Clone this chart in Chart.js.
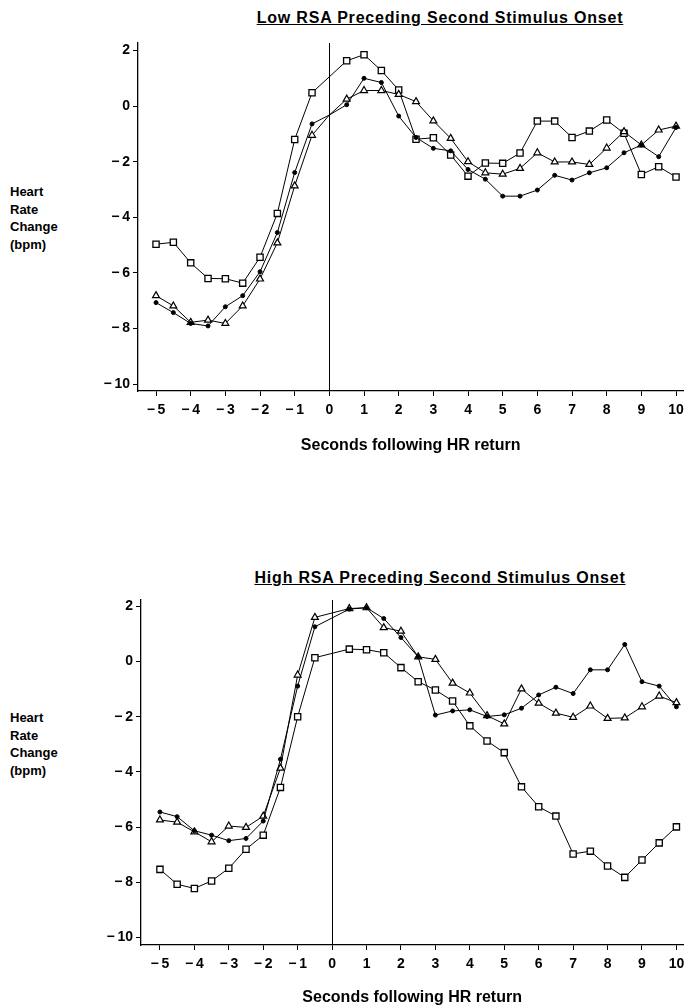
<!DOCTYPE html>
<html lang="en">
<head>
<meta charset="UTF-8">
<title>Heart Rate Change following HR return</title>
<script src="https://cdn.jsdelivr.net/npm/chart.js"></script>
<style>
  body { margin: 0; background: #fff; width: 689px; height: 1006px; position: relative; overflow: hidden;
         font-family: "Liberation Sans", Arial, sans-serif; color: #000; }
  .panel { position: absolute; left: 0; width: 689px; }
  .title { position: absolute; left: 440px; transform: translateX(-50%); white-space: nowrap;
           font-weight: bold; font-size: 16px; line-height: 18px; text-decoration: underline; letter-spacing: 0.8px; }
  .ylab { position: absolute; left: 10px; font-weight: bold; font-size: 13px; line-height: 17.5px; }
</style>
</head>
<body>
  <div class="title" style="top:9px">Low RSA Preceding Second Stimulus Onset</div>
  <div class="ylab" style="top:183px">Heart<br>Rate<br>Change<br>(bpm)</div>
  <div class="panel" style="top:0; height:480px"><canvas id="lowChart"></canvas></div>

  <div class="title" style="top:569px">High RSA Preceding Second Stimulus Onset</div>
  <div class="ylab" style="top:709px">Heart<br>Rate<br>Change<br>(bpm)</div>
  <div class="panel" style="top:500px; height:506px"><canvas id="highChart"></canvas></div>

<script>
  // seconds following HR return (half-second samples)
  const times = [-5, -4.5, -4, -3.5, -3, -2.5, -2, -1.5, -1, -0.5, 0, 0.5, 1, 1.5, 2, 2.5, 3, 3.5, 4, 4.5,
                 5, 5.5, 6, 6.5, 7, 7.5, 8, 8.5, 9, 9.5, 10];
  const xTicks = [-5, -4, -3, -2, -1, 0, 1, 2, 3, 4, 5, 6, 7, 8, 9, 10];
  const yTicks = [-10, -8, -6, -4, -2, 0, 2];

  // Low RSA panel
  const lowSquare = [-4.97, -4.90, -5.64, -6.20, -6.21, -6.37, -5.44, -3.86, -1.20, 0.48, null, 1.63, 1.85, 1.28, 0.58,
                     -1.19, -1.14, -1.76, -2.52, -2.05, -2.06, -1.69, -0.54, -0.54, -1.13, -0.90, -0.50, -0.98, -2.46, -2.18, -2.55];
  const lowCircle = [-7.07, -7.43, -7.82, -7.91, -7.22, -6.82, -5.96, -4.55, -2.39, -0.64, -0.32, 0.05, 1.00, 0.85, -0.36,
                     -1.13, -1.52, -1.61, -2.28, -2.63, -3.24, -3.24, -3.02, -2.49, -2.66, -2.40, -2.22, -1.68, -1.40, -1.82, -0.77];
  const lowTriangle = [-6.82, -7.19, -7.78, -7.70, -7.82, -7.19, -6.22, -4.92, -2.87, -1.05, -0.32, 0.25, 0.56, 0.56, 0.42,
                       0.16, -0.53, -1.16, -2.00, -2.40, -2.45, -2.24, -1.68, -2.01, -2.01, -2.10, -1.51, -0.92, -1.40, -0.86, -0.72];

  // High RSA panel
  const highSquare = [-7.53, -8.07, -8.22, -7.95, -7.49, -6.80, -6.29, -4.56, -2.00, 0.14, null, 0.45, 0.43, 0.32, -0.22,
                      -0.73, -1.03, -1.43, -2.33, -2.88, -3.30, -4.54, -5.26, -5.60, -6.97, -6.87, -7.41, -7.82, -7.19, -6.57, -5.99];
  const highCircle = [-5.45, -5.62, -6.13, -6.29, -6.49, -6.41, -5.78, -3.54, -0.89, 1.26, null, 1.90, 1.95, 1.56, 0.87,
                      0.17, -1.94, -1.79, -1.75, -1.99, -1.93, -1.69, -1.21, -0.93, -1.16, -0.30, -0.30, 0.62, -0.73, -0.89, -1.64];
  const highTriangle = [-5.74, -5.82, -6.17, -6.53, -5.96, -6.01, -5.60, -3.86, -0.49, 1.60, null, 1.92, 1.95, 1.23, 1.10,
                        0.17, 0.08, -0.78, -1.14, -1.96, -2.26, -0.99, -1.51, -1.87, -2.02, -1.61, -2.06, -2.04, -1.64, -1.25, -1.49];

  const zeroLine = 0;

  Chart.defaults.font.family = '"Liberation Sans", Arial, sans-serif';
  Chart.defaults.font.weight = 'bold';
  Chart.defaults.font.size = 14;
  Chart.defaults.color = '#000';

  function fmt(v) {
    return v < 0 ? '\u2212\u2009' + Math.abs(v) : String(v);
  }

  // hide markers at t = 0 (covered by the vertical line in the original)
  function radius(r) {
    return ctx => (ctx.raw && ctx.raw.x === 0) ? 0 : r;
  }

  const zeroLinePlugin = {
    id: 'zeroLine',
    afterDatasetsDraw(chart) {
      const {ctx, chartArea, scales} = chart;
      const x = Math.round(scales.x.getPixelForValue(zeroLine)) + 0.5;
      ctx.save();
      ctx.strokeStyle = '#000';
      ctx.lineWidth = 1;
      ctx.beginPath();
      ctx.moveTo(x, chartArea.top);
      ctx.lineTo(x, chartArea.bottom);
      ctx.stroke();
      ctx.restore();
    }
  };

  function series(vals) {
    return times.map((t, i) => ({x: t, y: vals[i]}));
  }

  function makeChart(id, sq, ci, tr, lay) {
    const ctx = document.getElementById(id).getContext('2d');
    new Chart(ctx, {
      type: 'line',
      data: {
        datasets: [
          {
            data: series(ci), borderColor: '#000', borderWidth: 1, tension: 0, spanGaps: true,
            pointStyle: 'circle', pointRadius: radius(2), backgroundColor: '#000', pointBorderWidth: 1
          },
          {
            data: series(tr), borderColor: '#000', borderWidth: 1, tension: 0, spanGaps: true,
            pointStyle: 'triangle', pointRadius: radius(4), backgroundColor: '#fff', pointBorderWidth: 1.2
          },
          {
            data: series(sq), borderColor: '#000', borderWidth: 1, tension: 0, spanGaps: true,
            pointStyle: 'rect', pointRadius: radius(4.4), backgroundColor: '#fff', pointBorderWidth: 1.3
          }
        ]
      },
      options: {
        responsive: true,
        maintainAspectRatio: false,
        animation: false,
        events: [],
        layout: { padding: lay.padding },
        plugins: { legend: { display: false }, tooltip: { enabled: false } },
        scales: {
          x: {
            type: 'linear',
            min: lay.xMin,
            max: lay.xMax,
            afterBuildTicks: s => { s.ticks = xTicks.map(v => ({value: v})); },
            afterFit: s => { s.height = lay.xHeight; s.paddingLeft = 0; s.paddingRight = 0; },
            grid: { drawOnChartArea: false, drawTicks: true, tickLength: 5, color: '#000', lineWidth: 1 },
            border: { display: true, color: '#000', width: 1.3 },
            ticks: { callback: fmt, padding: 6, maxRotation: 0, autoSkip: false, font: { size: 14, weight: 'bold' } },
            title: { display: true, text: 'Seconds following HR return', font: { size: 16, weight: 'bold' }, padding: { top: 0, bottom: lay.titlePad } }
          },
          y: {
            type: 'linear',
            min: lay.yMin,
            max: lay.yMax,
            afterBuildTicks: s => { s.ticks = yTicks.map(v => ({value: v})); },
            afterFit: s => { s.width = lay.yWidth; },
            grid: { drawOnChartArea: false, drawTicks: true, tickLength: 5, color: '#000', lineWidth: 1 },
            border: { display: true, color: '#000', width: 1.3 },
            ticks: { callback: fmt, padding: 3, font: { size: 14, weight: 'bold' } }
          }
        }
      },
      plugins: [zeroLinePlugin]
    });
  }

  makeChart('lowChart', lowSquare, lowCircle, lowTriangle, {
    padding: { top: 43, bottom: 25, left: 0, right: 2 },
    xMin: -5.52, xMax: 10.21, yMin: -10.25, yMax: 2.27,
    yWidth: 138, xHeight: 64, titlePad: 0
  });

  makeChart('highChart', highSquare, highCircle, highTriangle, {
    padding: { top: 100, bottom: 0, left: 0, right: 2 },
    xMin: -5.55, xMax: 10.2, yMin: -10.27, yMax: 2.23,
    yWidth: 141, xHeight: 61, titlePad: -1
  });
</script>
</body>
</html>
